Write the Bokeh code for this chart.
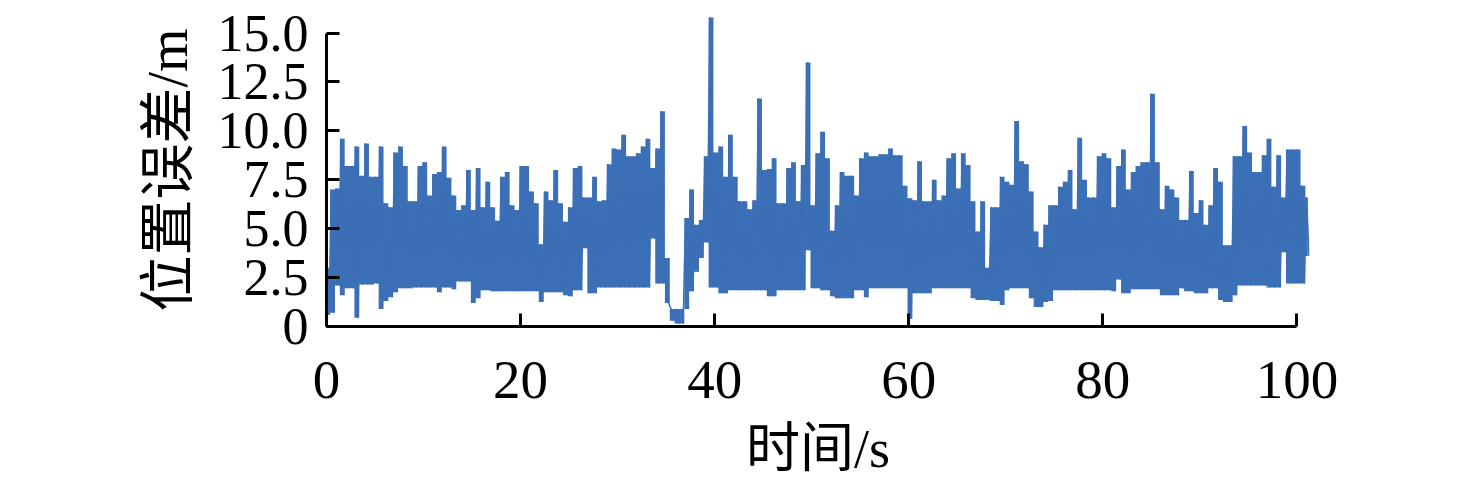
import numpy as np
from bokeh.plotting import figure
from bokeh.models import FixedTicker, CustomJSTickFormatter, Range1d
from bokeh.embed import file_html
from bokeh.resources import INLINE

# sampling step of the readings (s)
dt = 0.5

# upper envelope of the error trace, one reading every 0.5 s from t = 0
upper = [
    3.0, 7.0, 7.05, 9.6, 8.2, 8.2, 9.2, 7.7, 9.35, 7.65,
    7.65, 9.2, 6.3, 6.1, 8.9, 9.2, 8.2, 6.4, 6.4, 8.2,
    8.4, 6.7, 7.8, 7.9, 9.2, 7.6, 6.7, 5.95, 6.2, 8.0,
    5.95, 8.1, 6.1, 7.4, 6.1, 5.4, 7.65, 7.9, 6.2, 5.95,
    8.2, 8.2, 6.9, 6.3, 4.2, 6.9, 6.45, 8.0, 6.3, 5.35,
    6.1, 8.1, 8.2, 6.6, 6.6, 7.65, 6.4, 6.45, 8.3, 9.1,
    9.05, 9.8, 8.7, 8.7, 8.85, 9.2, 9.6, 8.1, 9.1, 11.0,
    3.5, 0.9, 0.9, 0.9, 5.55, 7.0, 5.2, 5.45, 8.7, 15.8,
    8.9, 9.2, 7.65, 9.8, 7.65, 6.4, 6.4, 6.0, 6.45, 11.65,
    8.0, 8.05, 8.6, 6.3, 6.3, 8.1, 8.4, 6.4, 8.25, 13.5,
    6.2, 8.85, 9.95, 8.6, 4.9, 6.2, 7.9, 7.7, 7.7, 6.7,
    8.6, 8.9, 8.7, 8.7, 8.8, 8.8, 9.1, 8.75, 8.75, 7.2,
    6.55, 6.45, 8.45, 6.4, 6.4, 7.5, 6.45, 6.7, 8.6, 8.85,
    7.05, 8.85, 8.25, 6.4, 4.85, 6.4, 3.0, 6.1, 6.1, 7.65,
    7.4, 7.25, 10.5, 8.45, 8.3, 6.9, 4.85, 4.05, 5.2, 6.2,
    6.2, 7.15, 7.4, 8.0, 6.0, 9.65, 7.5, 6.6, 6.6, 8.7,
    8.85, 8.6, 6.1, 8.2, 9.05, 7.0, 7.9, 8.2, 8.4, 8.4,
    11.9, 8.4, 6.0, 7.2, 7.0, 6.6, 5.45, 5.45, 7.95, 5.8,
    6.45, 5.2, 6.2, 8.1, 7.4, 4.15, 4.15, 8.7, 8.7, 10.25,
    8.9, 7.9, 7.9, 8.75, 9.6, 7.15, 8.75, 6.6, 9.05, 9.05,
    9.05, 7.2, 6.6,
]

# lower envelope, read 0.25 s after each upper reading
lower = [
    0.6, 0.7, 2.1, 1.6, 1.95, 1.95, 0.45, 2.15, 2.15, 2.15,
    2.2, 0.9, 1.3, 1.5, 1.75, 1.95, 1.95, 1.95, 2.0, 2.0,
    2.0, 2.0, 2.0, 1.75, 2.0, 2.0, 1.9, 2.3, 2.3, 2.3,
    1.2, 1.45, 1.85, 1.85, 1.8, 1.8, 1.8, 1.8, 1.8, 1.8,
    1.8, 1.8, 1.8, 1.8, 1.25, 1.75, 1.75, 1.75, 1.75, 1.6,
    1.55, 1.85, 1.85, 4.0, 1.7, 1.7, 2.0, 2.0, 2.0, 2.0,
    2.0, 2.0, 2.0, 2.0, 2.0, 2.0, 2.0, 4.5, 2.2, 2.2,
    1.2, 0.3, 0.15, 0.15, 0.9, 1.8, 2.8, 3.5, 4.3, 2.0,
    2.0, 1.7, 1.7, 1.85, 1.85, 1.85, 1.85, 1.85, 1.85, 1.85,
    1.85, 1.55, 1.55, 1.85, 1.85, 1.85, 1.85, 1.85, 1.85, 3.9,
    1.95, 1.95, 1.85, 1.85, 1.55, 1.45, 1.45, 1.45, 1.45, 1.85,
    1.85, 1.5, 1.95, 1.95, 1.95, 1.95, 1.95, 1.95, 1.95, 1.95,
    0.4, 1.7, 1.7, 1.7, 1.7, 1.95, 1.95, 1.95, 1.95, 1.95,
    1.95, 1.95, 1.95, 1.45, 1.35, 1.35, 1.35, 1.3, 1.3, 1.1,
    1.85, 1.95, 1.95, 1.95, 1.95, 1.45, 1.0, 1.0, 1.25, 1.3,
    1.85, 1.85, 1.85, 1.85, 1.85, 1.85, 1.85, 1.85, 1.85, 1.85,
    1.85, 1.85, 1.8, 2.4, 1.7, 1.7, 1.9, 1.9, 1.9, 1.9,
    1.9, 1.9, 1.6, 1.6, 1.6, 1.6, 1.95, 1.8, 1.8, 1.7,
    1.7, 1.7, 1.95, 1.95, 1.35, 1.25, 1.25, 1.6, 2.1, 2.1,
    2.1, 2.1, 2.1, 2.1, 2.0, 2.0, 2.0, 3.8, 2.2, 2.2,
    2.2, 2.2, 3.6,
]

x_ticks = [0, 20, 40, 60, 80, 100]
y_ticks = [0, 2.5, 5.0, 7.5, 10.0, 12.5, 15.0]
x_title = "时间/s"
y_title = "位置误差/m"

n = len(upper)
t = np.arange(n) * dt
xs = np.empty(2 * n)
ys = np.empty(2 * n)
xs[0::2] = t
xs[1::2] = t + dt / 2
ys[0::2] = upper
ys[1::2] = lower

BLUE = "#3b6fb6"

W, H = 1468, 484
p = figure(
    width=W, height=H, output_backend="svg", toolbar_location=None,
    x_range=Range1d(0, 101.3), y_range=Range1d(0, 16.0),
    min_border_left=326, min_border_right=159,
    min_border_top=13, min_border_bottom=158,
)
p.outline_line_color = None
p.grid.grid_line_color = None
p.background_fill_color = "white"
p.border_fill_color = "white"

# the dense oscillation renders as a filled band between its envelopes
p.varea_step(x=t + dt / 4, y1=lower, y2=upper, step_mode="center",
             fill_color=BLUE, fill_alpha=1.0)
p.line(xs, ys, line_color=BLUE, line_width=1.5, line_join="bevel")

serif = "'Liberation Serif', 'Times New Roman', serif"
cjk = "'Liberation Serif', 'Noto Sans CJK SC', serif"

for ax in (p.xaxis[0], p.yaxis[0]):
    ax.axis_line_color = "black"
    ax.axis_line_width = 3
    ax.major_tick_line_color = "black"
    ax.major_tick_line_width = 3
    ax.major_tick_in = 13
    ax.major_tick_out = 0
    ax.minor_tick_line_color = None
    ax.major_label_text_font = serif
    ax.major_label_text_color = "black"
    ax.axis_label_text_font = cjk
    ax.axis_label_text_font_style = "normal"
    ax.axis_label_text_color = "black"

p.xaxis.major_label_text_font_size = "55px"
p.yaxis.major_label_text_font_size = "52px"
p.xaxis.axis_label_text_font_size = "54px"
p.yaxis.axis_label_text_font_size = "56px"

p.xaxis.bounds = (0, 100)
p.yaxis.bounds = (0, 15)
p.xaxis.ticker = FixedTicker(ticks=x_ticks)
p.yaxis.ticker = FixedTicker(ticks=y_ticks)
p.yaxis.formatter = CustomJSTickFormatter(code="return tick === 0 ? '0' : tick.toFixed(1);")
p.xaxis.formatter = CustomJSTickFormatter(code="return tick.toFixed(0);")
p.xaxis.major_label_standoff = 35
p.yaxis.major_label_standoff = 18
p.xaxis.axis_label = x_title
p.yaxis.axis_label = y_title
p.xaxis.axis_label_standoff = 18
p.yaxis.axis_label_standoff = 16

open("out.html", "w").write(file_html(p, INLINE))
